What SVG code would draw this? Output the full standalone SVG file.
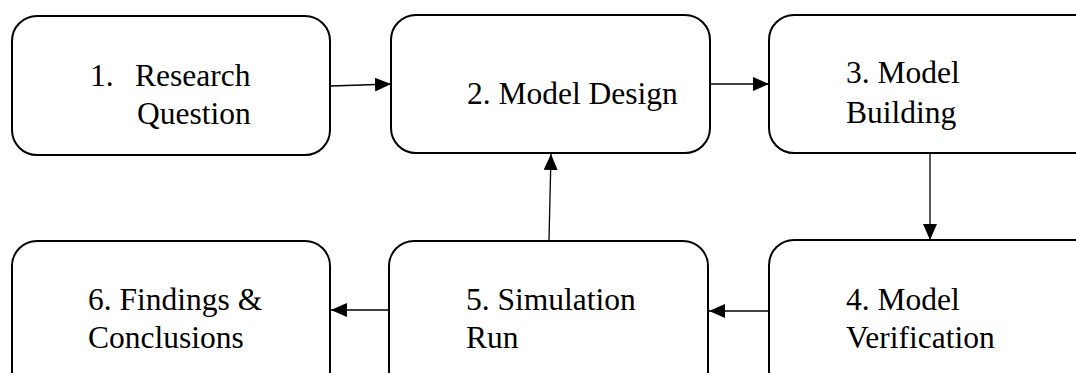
<svg xmlns="http://www.w3.org/2000/svg" width="1076" height="373" viewBox="0 0 1076 373">
<style>
.box{fill:#fff;stroke:#000;stroke-width:2}
.c{stroke:#000;stroke-width:1.3;fill:none}
</style>
<defs>
<marker id="ah" viewBox="0 0 16 14" refX="16" refY="7" markerWidth="16" markerHeight="14" markerUnits="userSpaceOnUse" orient="auto">
<path d="M0,0 L16,7 L0,14 Z" fill="#000"/>
</marker>
</defs>
<rect width="1076" height="373" fill="#fff"/>
<g font-family="Liberation Serif, Times New Roman, DejaVu Serif, serif" font-size="31.5" fill="#000">
<g id="n1">
<rect class="box" x="12" y="16" width="318" height="139" rx="25"/>
<text x="90" y="86">1.</text>
<text x="135" y="86">Research</text>
<text x="137" y="124">Question</text>
</g>
<g id="n2">
<rect class="box" x="391" y="15" width="319" height="138" rx="25"/>
<text x="467" y="104">2. Model Design</text>
</g>
<g id="n3">
<rect class="box" x="769" y="15" width="330" height="138" rx="25"/>
<text x="846" y="83">3. Model</text>
<text x="846" y="123">Building</text>
</g>
<g id="n4">
<rect class="box" x="769" y="240" width="330" height="160" rx="25"/>
<text x="846" y="310">4. Model</text>
<text x="846" y="348">Verification</text>
</g>
<g id="n5">
<rect class="box" x="389" y="241" width="319" height="160" rx="25"/>
<text x="466" y="310">5. Simulation</text>
<text x="466" y="348">Run</text>
</g>
<g id="n6">
<rect class="box" x="12" y="241" width="318" height="160" rx="25"/>
<text x="88" y="310">6. Findings &amp;</text>
<text x="88" y="348">Conclusions</text>
</g>
</g>
<g id="connectors">
<line class="c" x1="331" y1="86" x2="391" y2="84" marker-end="url(#ah)"/>
<line class="c" x1="711" y1="84" x2="769" y2="84" marker-end="url(#ah)"/>
<line class="c" x1="930" y1="154" x2="930" y2="240" marker-end="url(#ah)"/>
<line class="c" x1="549" y1="240" x2="551" y2="154" marker-end="url(#ah)"/>
<line class="c" x1="768" y1="311" x2="709" y2="311" marker-end="url(#ah)"/>
<line class="c" x1="388" y1="310" x2="331" y2="310" marker-end="url(#ah)"/>
</g>
</svg>
